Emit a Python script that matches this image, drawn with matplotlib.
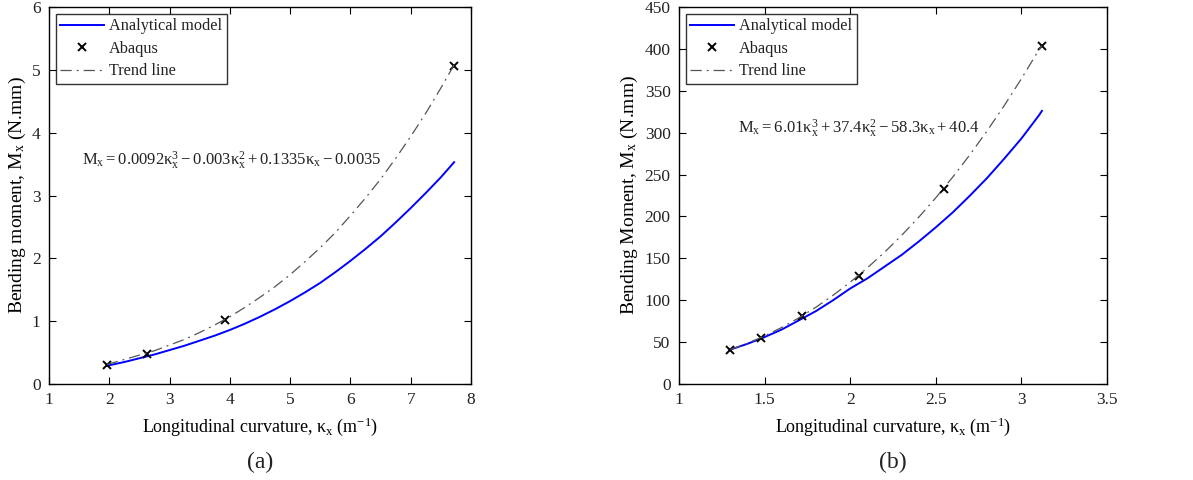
import numpy as np
import matplotlib
matplotlib.use("Agg")
import matplotlib.pyplot as plt

# (a) data
k_abq_a = [1.96, 2.62, 3.92, 7.72]
m_abq_a = [0.31, 0.48, 1.02, 5.06]

k_ana_a = [1.96, 2.25, 2.5, 2.75, 3.0, 3.25, 3.5, 3.75, 4.0, 4.25, 4.5, 4.75, 5.0,
           5.25, 5.5, 5.75, 6.0, 6.25, 6.5, 6.75, 7.0, 7.25, 7.5, 7.72]
m_ana_a = [0.29, 0.35, 0.41, 0.47, 0.54, 0.61, 0.69, 0.77, 0.86, 0.96, 1.07, 1.19, 1.32,
           1.46, 1.61, 1.78, 1.96, 2.15, 2.35, 2.57, 2.80, 3.04, 3.29, 3.53]

k_trend_a = [1.96, 2.25, 2.5, 2.75, 3.0, 3.25, 3.5, 3.75, 4.0, 4.25, 4.5, 4.75, 5.0,
             5.25, 5.5, 5.75, 6.0, 6.25, 6.5, 6.75, 7.0, 7.25, 7.5, 7.72]
m_trend_a = [0.31, 0.39, 0.46, 0.53, 0.62, 0.71, 0.82, 0.94, 1.07, 1.22, 1.38, 1.55, 1.74,
             1.95, 2.17, 2.41, 2.68, 2.96, 3.26, 3.59, 3.94, 4.31, 4.71, 5.08]

# (b) data
k_abq_b = [1.30, 1.48, 1.72, 2.05, 2.55, 3.12]
m_abq_b = [41, 55, 81, 129, 233, 403]

k_ana_b = [1.30, 1.4, 1.5, 1.6, 1.7, 1.8, 1.9, 2.0, 2.1, 2.2, 2.3, 2.4, 2.5,
           2.6, 2.7, 2.8, 2.9, 3.0, 3.1, 3.12]
m_ana_b = [41, 48, 56, 65, 76, 87, 100, 114, 126, 140, 154, 170, 187,
           205, 225, 246, 269, 293, 320, 326]

k_trend_b = [1.30, 1.4, 1.5, 1.6, 1.7, 1.8, 1.9, 2.0, 2.1, 2.2, 2.3, 2.4, 2.5,
             2.6, 2.7, 2.8, 2.9, 3.0, 3.1, 3.12]
m_trend_b = [41.0, 48.6, 57.4, 67.5, 78.9, 91.7, 105.9, 121.5, 138.6, 157.2, 177.3, 199.0, 222.3,
             247.3, 273.9, 302.3, 332.4, 364.4, 398.1, 404.0]

eq_a = r'$\mathregular{M_x = 0.0092\kappa_x^3 - 0.003\kappa_x^2 + 0.1335\kappa_x - 0.0035}$'
eq_b = r'$\mathregular{M_x = 6.01\kappa_x^3 + 37.4\kappa_x^2 - 58.3\kappa_x + 40.4}$'

plt.rcParams['font.family'] = ['Liberation Serif', 'DejaVu Serif']
plt.rcParams['mathtext.fontset'] = 'custom'
plt.rcParams['mathtext.rm'] = 'Liberation Serif'
plt.rcParams['mathtext.it'] = 'Liberation Serif'
plt.rcParams['mathtext.bf'] = 'Liberation Serif:bold'
plt.rcParams['text.color'] = '#222222'

fig = plt.figure(figsize=(11.93, 4.8), dpi=100)
ax1 = fig.add_axes([49 / 1193, 96 / 480, 422 / 1193, 377 / 480])
ax2 = fig.add_axes([679 / 1193, 96 / 480, 428 / 1193, 377 / 480])


def draw(ax, ka, ma, kt, mt, kb, mb):
    ax.plot(ka, ma, color='#0000ff', lw=1.4, label='Analytical model')
    ax.plot(kb, mb, 'x', color='black', ms=6, mew=1.4, label='Abaqus')
    ax.plot(kt, mt, color='#555555', lw=0.9, ls=(0, (9, 4, 1.5, 4)), label='Trend line')
    ax.tick_params(direction='in', top=True, right=True, length=5, width=0.8,
                   labelsize=12.5, labelcolor='#222222', pad=6)
    for s in ax.spines.values():
        s.set_linewidth(1.0)
    leg = ax.legend(loc='upper left', fontsize=11.7, frameon=True, fancybox=False,
                    edgecolor='black', borderpad=0.3, labelspacing=0.4,
                    handlelength=2.7, handletextpad=0.3, borderaxespad=0.4)
    leg.get_frame().set_linewidth(1.0)


draw(ax1, k_ana_a, m_ana_a, k_trend_a, m_trend_a, k_abq_a, m_abq_a)
ax1.set_xlim(1, 8)
ax1.set_ylim(0, 6)
ax1.set_xticks(range(1, 9))
ax1.set_yticks(range(0, 7))
ax1.set_xlabel(r'Longitudinal curvature, $\kappa_x$ (m$^{-1}$)', fontsize=13, labelpad=5)
ax1.set_ylabel(r'Bending moment, $\mathregular{M_x}$ (N.mm)', fontsize=14, labelpad=3)
ax1.text(1.55, 3.57, eq_a, fontsize=12, va='center', ha='left')

draw(ax2, k_ana_b, m_ana_b, k_trend_b, m_trend_b, k_abq_b, m_abq_b)
ax2.set_xlim(1, 3.5)
ax2.set_ylim(0, 450)
ax2.set_xticks([1, 1.5, 2, 2.5, 3, 3.5])
ax2.set_xticklabels(['1', '1.5', '2', '2.5', '3', '3.5'])
ax2.set_yticks(range(0, 451, 50))
ax2.set_xlabel(r'Longitudinal curvature, $\kappa_x$ (m$^{-1}$)', fontsize=13, labelpad=5)
ax2.set_ylabel(r'Bending Moment, $\mathregular{M_x}$ (N.mm)', fontsize=14, labelpad=3)
ax2.text(1.345, 305, eq_b, fontsize=12, va='center', ha='left')

fig.text(260 / 1193, 18 / 480, '(a)', fontsize=17, ha='center', va='center')
fig.text(893 / 1193, 18 / 480, '(b)', fontsize=17, ha='center', va='center')

fig.savefig('out.png', dpi=100)
